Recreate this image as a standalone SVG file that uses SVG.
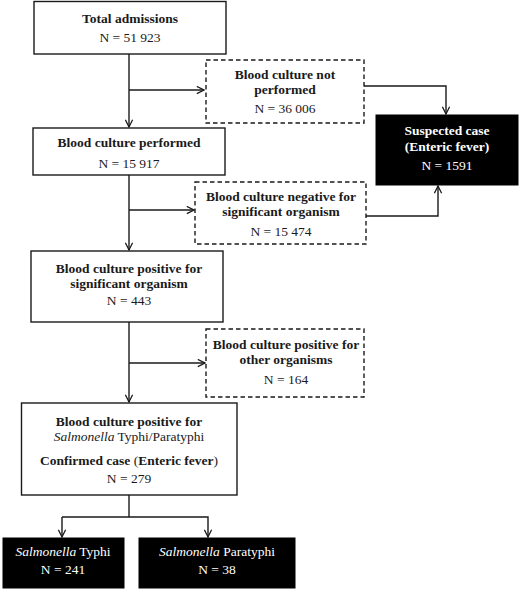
<svg xmlns="http://www.w3.org/2000/svg" width="520" height="590" viewBox="0 0 520 590" font-family="'Liberation Serif', 'DejaVu Serif', 'Times New Roman', serif">
<style>
.box{fill:#fff;stroke:#1a1a1a;stroke-width:1.4}
.dash{fill:#fff;stroke:#1a1a1a;stroke-width:1.4;stroke-dasharray:4.5 3}
.blk{fill:#000;stroke:#000}
text{font-family:'Liberation Serif','DejaVu Serif','Times New Roman',serif;font-size:13.5px;text-anchor:middle;fill:#1a1a1a}
.b{font-weight:bold}
.w{fill:#fff}
.c line,.c polyline{fill:none;stroke:#1a1a1a;stroke-width:1.4}
</style>
<defs>
<marker id="ah" viewBox="0 0 10 10" refX="9" refY="5" markerWidth="9" markerHeight="9" markerUnits="userSpaceOnUse" orient="auto">
<polyline points="1,1 9,5 1,9" fill="none" stroke="#1a1a1a" stroke-width="1.4"/>
</marker>
</defs>
<g id="connectors" class="c">
<line x1="129" y1="54" x2="129" y2="127" marker-end="url(#ah)"/>
<line x1="129" y1="90" x2="204" y2="90" marker-end="url(#ah)"/>
<polyline points="364,86 446,86 446,114" marker-end="url(#ah)"/>
<line x1="129" y1="175" x2="129" y2="250" marker-end="url(#ah)"/>
<line x1="129" y1="210" x2="194" y2="210" marker-end="url(#ah)"/>
<polyline points="366,216 438,216 438,186" marker-end="url(#ah)"/>
<line x1="129" y1="322" x2="129" y2="402" marker-end="url(#ah)"/>
<line x1="129" y1="363" x2="205" y2="363" marker-end="url(#ah)"/>
<line x1="129" y1="495" x2="129" y2="517"/>
<polyline points="62,517 208,517 208,537" marker-end="url(#ah)"/>
<line x1="62" y1="517" x2="62" y2="537" marker-end="url(#ah)"/>
</g>
<g id="total">
<rect class="box" x="34" y="1.5" width="192" height="52.5"/>
<text class="b" x="130" y="23">Total admissions</text>
<text x="130" y="42">N = 51 923</text>
</g>
<g id="not-performed">
<rect class="dash" x="206" y="60" width="158" height="63"/>
<text class="b" x="285" y="79">Blood culture not</text>
<text class="b" x="285" y="94">performed</text>
<text x="285" y="113">N = 36 006</text>
</g>
<g id="suspected">
<rect class="blk" x="376" y="115" width="142" height="70"/>
<text class="b w" x="447" y="135">Suspected case</text>
<text class="b w" x="447" y="151">(Enteric fever)</text>
<text class="w" x="447" y="170">N = 1591</text>
</g>
<g id="performed">
<rect class="box" x="33" y="128" width="192" height="47"/>
<text class="b" x="129" y="147">Blood culture performed</text>
<text x="129" y="168">N = 15 917</text>
</g>
<g id="negative">
<rect class="dash" x="195" y="182" width="171" height="62"/>
<text class="b" x="281" y="201">Blood culture negative for</text>
<text class="b" x="281" y="216">significant organism</text>
<text x="281" y="236">N = 15 474</text>
</g>
<g id="positive-sig">
<rect class="box" x="31" y="251" width="192" height="71"/>
<text class="b" x="129" y="273">Blood culture positive for</text>
<text class="b" x="129" y="288">significant organism</text>
<text x="129" y="305">N = 443</text>
</g>
<g id="other">
<rect class="dash" x="206" y="329" width="158" height="68"/>
<text class="b" x="286" y="349">Blood culture positive for</text>
<text class="b" x="286" y="364">other organisms</text>
<text x="286" y="384">N = 164</text>
</g>
<g id="confirmed">
<rect class="box" x="21.5" y="403" width="215.5" height="92"/>
<text class="b" x="129" y="426">Blood culture positive for</text>
<text x="129" y="441"><tspan font-style="italic">Salmonella</tspan> Typhi/Paratyphi</text>
<text class="b" x="129" y="465">Confirmed case <tspan font-weight="normal">(</tspan>Enteric fever<tspan font-weight="normal">)</tspan></text>
<text x="129" y="483">N = 279</text>
</g>
<g id="typhi">
<rect class="blk" x="3" y="538" width="121" height="50"/>
<text class="w" x="63" y="556"><tspan font-style="italic">Salmonella</tspan> Typhi</text>
<text class="w" x="63" y="574">N = 241</text>
</g>
<g id="paratyphi">
<rect class="blk" x="139" y="538" width="156" height="50"/>
<text class="w" x="217" y="556"><tspan font-style="italic">Salmonella</tspan> Paratyphi</text>
<text class="w" x="217" y="574">N = 38</text>
</g>
</svg>
